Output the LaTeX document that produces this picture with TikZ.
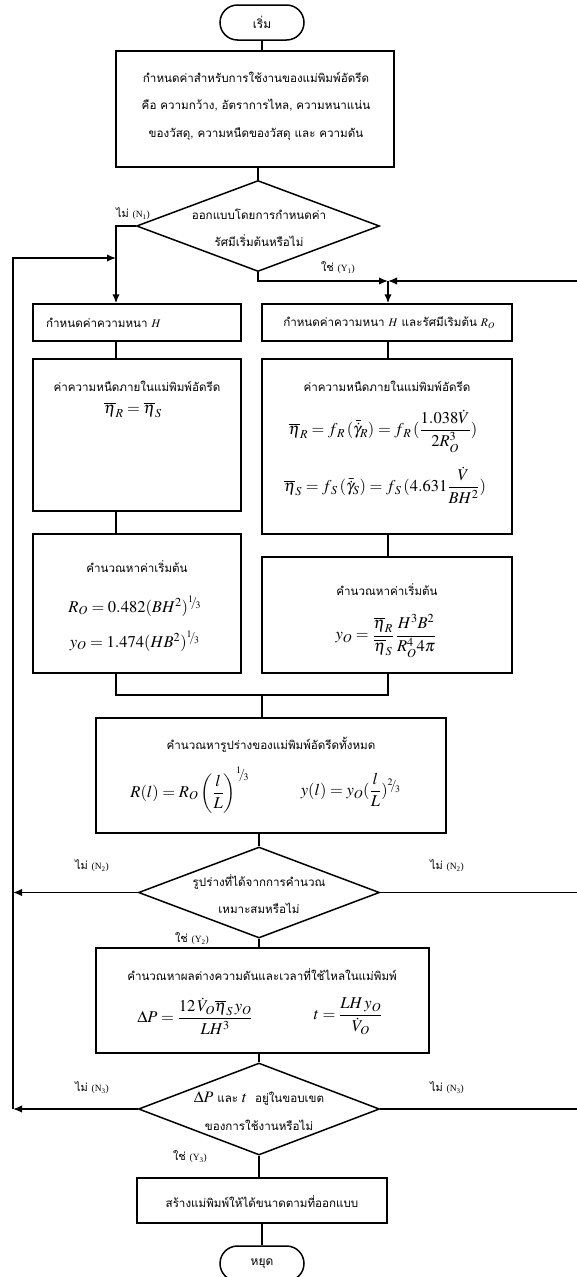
\documentclass[tikz,border=0pt]{standalone}
\usepackage{amsmath}
\usepackage{mathptmx}
\usepackage[no-math]{fontspec}
\setmainfont{Liberation Serif}
\newfontfamily\thai[Script=Thai]{Loma}
\usetikzlibrary{arrows.meta,shapes.misc,shapes.geometric}
\tikzset{
  ln/.style={line width=1.5pt},
  arr/.style={line width=1.5pt,-{Latex[length=9pt,width=7.5pt]}},
  boxnode/.style={draw,line width=1.5pt,inner sep=0pt},
  term/.style={draw,line width=1.5pt,rounded rectangle,minimum width=84pt,minimum height=35pt,inner sep=0pt,font=\thai\fontsize{12}{14}\selectfont},
  dec/.style={draw,line width=1.5pt,diamond,inner sep=0pt},
  th/.style={font=\thai\fontsize{11.6}{27.5}\selectfont,align=center,inner sep=0pt},
  mth/.style={font=\fontsize{16.5}{19}\selectfont,inner sep=0pt},
  lab/.style={font=\thai\fontsize{11}{12}\selectfont,inner sep=0pt}
}
\newcommand{\lbl}[2]{#1\ {\rmfamily\fontsize{9.5}{11}\selectfont(#2)}}
\newcommand{\slfr}[2]{{}^{#1}\!\!/\!{}_{#2}}
\newcommand{\mathbig}[1]{{\rmfamily\fontsize{16}{18}\selectfont$#1$}}
\begin{document}
\begin{tikzpicture}[x=1pt,y=-1pt]
\useasboundingbox (0,0) rectangle (577,1277);
% columns
\coordinate (cL) at (116,0);
\coordinate (cR) at (388,0);
\coordinate (cM) at (262,0);
\coordinate (loopL) at (13,0);
\coordinate (loopR) at (579,0);
\coordinate (topL) at (116,258);
\coordinate (jY) at (388,281);
\coordinate (mrg) at (0,695);

% nodes
\node[term] (start) at (262,22.5) {เริ่ม};
\node[boxnode,minimum width=278pt,minimum height=116pt] (b1) at (255,109) {};
\node[th] (b1t) at (256,106) {กำหนดค่าสำหรับการใช้งานของแม่พิมพ์อัดรีด\\คือ ความกว้าง, อัตราการไหล, ความหนาแน่น\\ของวัสดุ, ความหนืดของวัสดุ และ ความดัน};

\node[dec,minimum width=243pt,minimum height=91pt] (d1) at (258,226) {};
\node[th] (d1t) at (259,228) {ออกแบบโดยการกำหนดค่า\\รัศมีเริ่มต้นหรือไม่};

\node[boxnode,minimum width=208pt,minimum height=37pt] (L1) at (137,322.5) {};
\node[th,anchor=west] (L1t) at (46,322.5) {กำหนดค่าความหนา $H$};
\node[boxnode,minimum width=250pt,minimum height=37pt] (R1) at (387,322.5) {};
\node[th] (R1t) at (389,322.5) {กำหนดค่าความหนา $H$ และรัศมีเริมต้น $R_O$};

\node[boxnode,minimum width=208pt,minimum height=152pt] (L2) at (137,435) {};
\node[th] (L2t) at (137,386) {ค่าความหนืดภายในแม่พิมพ์อัดรีด};
\node[mth] (L2m) at (133,410) {$\overline{\eta}_R=\overline{\eta}_S$};

\node[boxnode,minimum width=250pt,minimum height=175pt] (R2) at (387,446.5) {};
\node[th] (R2t) at (387,386) {ค่าความหนืดภายในแม่พิมพ์อัดรีด};
\node[mth] (R2m1) at (383,431) {$\overline{\eta}_R=f_{\,R}\,(\bar{\dot{\gamma}}_{R})=f_{\,R}\,(\dfrac{1.038\dot{V}}{2R_O^3})$};
\node[mth] (R2m2) at (385,485) {$\overline{\eta}_S=f_{\,S}\,(\bar{\dot{\gamma}}_{S})=f_{\,S}\,(4.631\dfrac{\dot{V}}{BH^2})$};

\node[boxnode,minimum width=208pt,minimum height=139pt] (L3) at (137,603.5) {};
\node[th] (L3t) at (137,567) {คำนวณหาค่าเริ่มต้น};
\node[mth] (L3m1) at (135,606) {$R_O=0.482(BH^2)^{\slfr{1}{3}}$};
\node[mth] (L3m2) at (135,641) {$y_O=1.474(HB^2)^{\slfr{1}{3}}$};

\node[boxnode,minimum width=250pt,minimum height=116pt] (R3) at (387,615) {};
\node[th] (R3t) at (387,590) {คำนวณหาค่าเริ่มต้น};
\node[mth] (R3m) at (386,636) {$y_O=\dfrac{\overline{\eta}_R}{\overline{\eta}_S}\,\dfrac{H^3B^2}{R_O^4 4\pi}$};

\node[boxnode,minimum width=350pt,minimum height=115pt] (M) at (271,775.5) {};
\node[th] (Mt) at (271,745) {คำนวณหารูปร่างของแม่พิมพ์อัดรีดทั้งหมด};
\node[mth] (Mm1) at (190,790) {$R(l)=R_O\left(\dfrac{l}{L}\right)^{\slfr{1}{3}}$};
\node[mth] (Mm2) at (351,790) {$y(l)=y_O(\dfrac{l}{L})^{\slfr{2}{3}}$};

\node[dec,minimum width=241pt,minimum height=91pt] (d2) at (259,892.5) {};
\node[th] (d2t) at (259,894) {รูปร่างที่ได้จากการคำนวณ\\เหมาะสมหรือไม่};

\node[boxnode,minimum width=333pt,minimum height=105pt] (B4) at (262.5,1000.5) {};
\node[th] (B4t) at (262,975) {คำนวณหาผลต่างความดันและเวลาที่ใช้ไหลในแม่พิมพ์};
\node[mth] (B4m1) at (195,1016) {$\Delta P=\dfrac{12\,\dot{V}_O\overline{\eta}_S\,y_O}{LH^3}$};
\node[mth] (B4m2) at (348,1016) {$t=\dfrac{LH\,y_O}{\dot{V}_O}$};

\node[dec,minimum width=241pt,minimum height=92pt] (d3) at (259,1109) {};
\node[th] (d3t) at (259,1111) {\mathbig{\Delta P} และ \mathbig{t}\ \ อยู่ในขอบเขต\\ของการใช้งานหรือไม่};

\node[boxnode,minimum width=250pt,minimum height=45pt] (B5) at (262,1200.5) {};
\node[th] (B5t) at (262,1202) {สร้างแม่พิมพ์ให้ได้ขนาดตามที่ออกแบบ};

\node[term] (stop) at (262,1263.5) {หยุด};

% labels
\node[lab] (n1) at (133,214) {\lbl{ไม่}{N\textsubscript{1}}};
\node[lab] (y1) at (338,268) {\lbl{ใช่}{Y\textsubscript{1}}};
\node[lab] (n2l) at (92,866) {\lbl{ไม่}{N\textsubscript{2}}};
\node[lab] (n2r) at (447,866) {\lbl{ไม่}{N\textsubscript{2}}};
\node[lab] (y2) at (192,939) {\lbl{ใช่}{Y\textsubscript{2}}};
\node[lab] (n3l) at (92,1088) {\lbl{ไม่}{N\textsubscript{3}}};
\node[lab] (n3r) at (447,1088) {\lbl{ไม่}{N\textsubscript{3}}};
\node[lab] (y3) at (190,1157) {\lbl{ใช่}{Y\textsubscript{3}}};

% connectors
\draw[ln] (start.south) -- (start.south |- b1.north);
\draw[ln] (d1.north |- b1.south) -- (d1.north);
\draw[arr] (d1.west) -| (cL |- L1.north);
\draw[arr] (d1.south) |- (jY);
\draw[arr] (loopR |- jY) -- (jY);
\draw[arr] (jY) -- (cR |- R1.north);
\draw[ln] (cL |- L1.south) -- (cL |- L2.north);
\draw[ln] (cL |- L2.south) -- (cL |- L3.north);
\draw[ln] (cR |- R1.south) -- (cR |- R2.north);
\draw[ln] (cR |- R2.south) -- (cR |- R3.north);
\draw[ln] (cL |- L3.south) -- (cL |- mrg) -- (cR |- mrg) -- (cR |- R3.south);
\draw[ln] (cM |- mrg) -- (cM |- M.north);
\draw[ln] (d2.north |- M.south) -- (d2.north);
\draw[arr] (d2.west) -- (loopL |- d2.west);
\draw[ln] (d2.east) -- (loopR |- d2.east);
\draw[ln] (d2.south) -- (d2.south |- B4.north);
\draw[ln] (d3.north |- B4.south) -- (d3.north);
\draw[arr] (d3.west) -- (loopL |- d3.west);
\draw[ln] (d3.east) -- (loopR |- d3.east) -- (loopR |- jY);
\draw[arr] (loopL |- d3.west) -- (loopL |- topL) -- (topL);
\draw[ln] (d3.south) -- (d3.south |- B5.north);
\draw[ln] (stop.north |- B5.south) -- (stop.north);
\end{tikzpicture}
\end{document}
